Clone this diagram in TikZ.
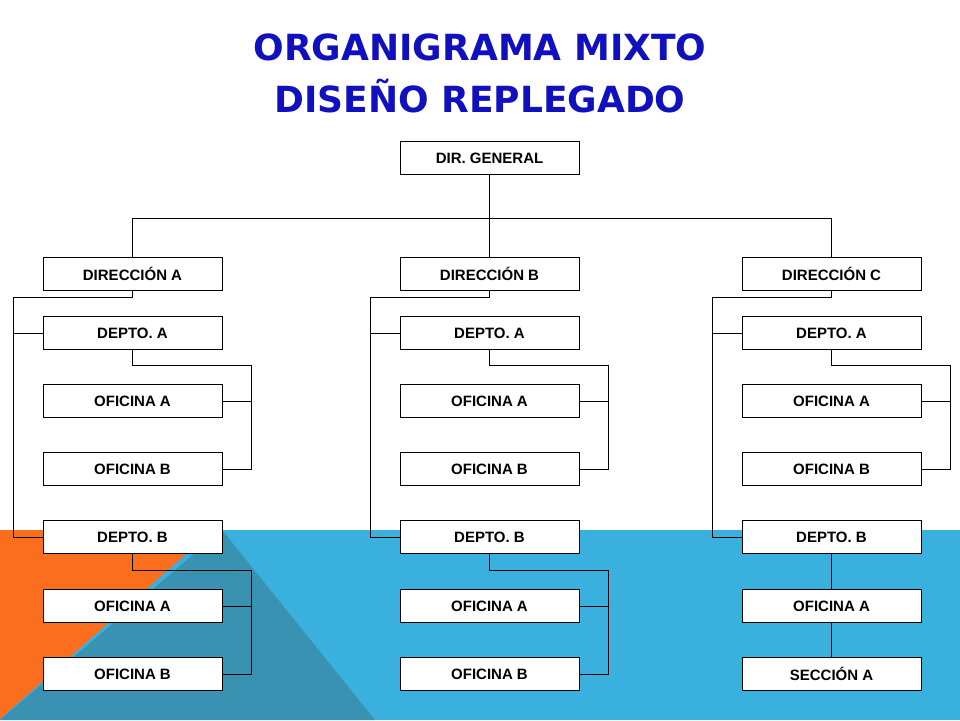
\documentclass[tikz,border=0pt]{standalone}
\usepackage{fontspec}
\setmainfont{Liberation Sans}
\newfontfamily\titlefont{DejaVu Sans}
\usepackage{tikz}
\usetikzlibrary{positioning}
\definecolor{fondoazul}{RGB}{58,176,222}
\definecolor{fondoteal}{RGB}{58,146,178}
\definecolor{fondonaranja}{RGB}{250,110,30}
\definecolor{titulo}{RGB}{16,16,190}

\begin{document}
\begin{tikzpicture}[x=1pt,y=-1pt]
                \tikzset{caja/.style = {draw, fill=white, line width=0.6pt, minimum width=179pt, minimum height=33pt, inner sep=0pt, font=\fontsize{15}{17}\selectfont\bfseries}}
                \tikzset{linea/.style = {line width=0.9pt}}
                \tikzset{tit/.style = {font=\titlefont\fontsize{36}{42}\selectfont\bfseries, text=titulo}}

                % fondo
                \useasboundingbox (0,0) rectangle (960,720);
                \fill[white] (0,0) rectangle (960,720);
                \fill[fondoazul] (0,530) rectangle (960,720);
                \fill[fondoteal] (0,720) -- (222,530) -- (375,720) -- cycle;
                \fill[fondonaranja] (0,530) -- (213,530) -- (0,719) -- cycle;

                % titulo
                \node[tit] (tit1) at (480,47) {ORGANIGRAMA MIXTO};
                \node[tit] (tit2) at (480,96) {DISEÑO REPLEGADO};

                \node[caja] (dirgen) at (489.5,158) {DIR. GENERAL};

                \node[caja] (dirA) at (132.5,274) {DIRECCIÓN A};
                \node[caja] (dirB) at (489.5,274) {DIRECCIÓN B};
                \node[caja] (dirC) at (831.5,274) {DIRECCIÓN C};

                \node[caja] (depAA) at (132.5,333) {DEPTO. A};
                \node[caja] (ofAAA) at (132.5,401) {OFICINA A};
                \node[caja] (ofAAB) at (132.5,469) {OFICINA B};
                \node[caja] (depAB) at (132.5,537) {DEPTO. B};
                \node[caja] (ofABA) at (132.5,606) {OFICINA A};
                \node[caja] (ofABB) at (132.5,674) {OFICINA B};

                \node[caja] (depBA) at (489.5,333) {DEPTO. A};
                \node[caja] (ofBAA) at (489.5,401) {OFICINA  A};
                \node[caja] (ofBAB) at (489.5,469) {OFICINA B};
                \node[caja] (depBB) at (489.5,537) {DEPTO. B};
                \node[caja] (ofBBA) at (489.5,606) {OFICINA A};
                \node[caja] (ofBBB) at (489.5,674) {OFICINA B};

                \node[caja] (depCA) at (831.5,333) {DEPTO. A};
                \node[caja] (ofCAA) at (831.5,401) {OFICINA  A};
                \node[caja] (ofCAB) at (831.5,469) {OFICINA B};
                \node[caja] (depCB) at (831.5,537) {DEPTO. B};
                \node[caja] (ofCBA) at (831.5,606) {OFICINA A};
                \node[caja] (secCA) at (831.5,674) {SECCIÓN A};

                % direcciones
                \draw[linea] (dirgen.south) -- (489.5,218) -| (dirA.north);
                \draw[linea] (489.5,218) -| (dirC.north);
                \draw[linea] (dirgen.south) -- (dirB.north);

                % departamentos
                \draw[linea] (dirA.south) |- (132.5,297) -| (13,537) -- (depAB.west);
                \draw[linea] (13,333) -- (depAA.west);
                \draw[linea] (dirB.south) |- (489.5,297) -| (370,537) -- (depBB.west);
                \draw[linea] (370,333) -- (depBA.west);
                \draw[linea] (dirC.south) |- (831.5,297) -| (712,537) -- (depCB.west);
                \draw[linea] (712,333) -- (depCA.west);

                % oficinas
                \draw[linea] (depAA.south) |- (251,365) |- (ofAAB.east);
                \draw[linea] (251,401) -- (ofAAA.east);
                \draw[linea] (depAB.south) |- (251,570) |- (ofABB.east);
                \draw[linea] (251,606) -- (ofABA.east);
                \draw[linea] (depBA.south) |- (608,365) |- (ofBAB.east);
                \draw[linea] (608,401) -- (ofBAA.east);
                \draw[linea] (depBB.south) |- (608,570) |- (ofBBB.east);
                \draw[linea] (608,606) -- (ofBBA.east);
                \draw[linea] (depCA.south) |- (950,365) |- (ofCAB.east);
                \draw[linea] (950,401) -- (ofCAA.east);
                \draw[linea] (depCB.south) -- (ofCBA.north);
                \draw[linea] (ofCBA.south) -- (secCA.north);
\end{tikzpicture}
\end{document}
